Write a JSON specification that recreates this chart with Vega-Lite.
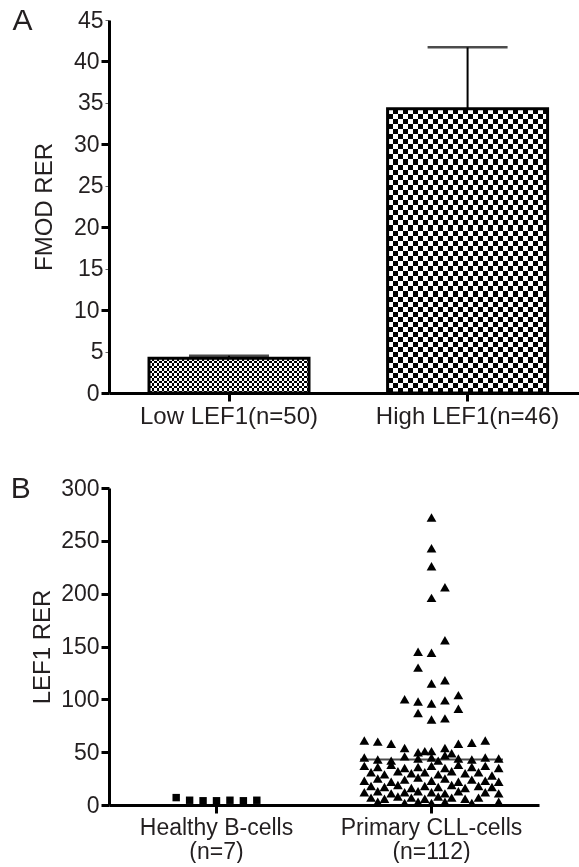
{
  "$schema": "https://vega.github.io/schema/vega-lite/v6.json",
  "padding": {"left": 10, "top": 6, "right": 0, "bottom": 0},
  "spacing": 46,
  "datasets": {
    "bars": [
      {"grp": "Low LEF1(n=50)", "mean": 4.2, "upper": 4.5},
      {"grp": "High LEF1(n=46)", "mean": 34.3, "upper": 41.7}
    ],
    "pts": [
      {"g":"Healthy","s":-6,"v":7},{"g":"Healthy","s":-4,"v":4.5},{"g":"Healthy","s":-2,"v":4},{"g":"Healthy","s":0,"v":4},{"g":"Healthy","s":2,"v":4.5},{"g":"Healthy","s":4,"v":4},{"g":"Healthy","s":6,"v":4.5},
      {"g":"Primary","s":0,"v":272},{"g":"Primary","s":0,"v":243},{"g":"Primary","s":0,"v":226},{"g":"Primary","s":2,"v":206},{"g":"Primary","s":0,"v":196},{"g":"Primary","s":2,"v":156},{"g":"Primary","s":-2,"v":145},{"g":"Primary","s":0,"v":144},{"g":"Primary","s":-2,"v":130},{"g":"Primary","s":0,"v":115},{"g":"Primary","s":2,"v":118},{"g":"Primary","s":-4,"v":100},{"g":"Primary","s":-2,"v":98},{"g":"Primary","s":0,"v":96},{"g":"Primary","s":2,"v":99},{"g":"Primary","s":4,"v":104},{"g":"Primary","s":-2,"v":87},{"g":"Primary","s":0,"v":81},{"g":"Primary","s":2,"v":82},{"g":"Primary","s":4,"v":91},
      {"g":"Primary","s":-10,"v":61},{"g":"Primary","s":-8,"v":60},{"g":"Primary","s":-6,"v":58},{"g":"Primary","s":-4,"v":54},{"g":"Primary","s":-2,"v":50},{"g":"Primary","s":-1,"v":51},{"g":"Primary","s":0,"v":51},{"g":"Primary","s":2,"v":54},{"g":"Primary","s":3,"v":49},{"g":"Primary","s":4,"v":58},{"g":"Primary","s":6,"v":59},{"g":"Primary","s":8,"v":61},
      {"g":"Primary","s":-10,"v":45},{"g":"Primary","s":-8,"v":43},{"g":"Primary","s":-6,"v":42},{"g":"Primary","s":-4,"v":46},{"g":"Primary","s":-2,"v":44},{"g":"Primary","s":0,"v":45},{"g":"Primary","s":1,"v":42},{"g":"Primary","s":2,"v":47},{"g":"Primary","s":4,"v":44},{"g":"Primary","s":6,"v":43},{"g":"Primary","s":8,"v":45},{"g":"Primary","s":10,"v":44},
      {"g":"Primary","s":-10,"v":37},{"g":"Primary","s":-8,"v":36},{"g":"Primary","s":-6,"v":38},{"g":"Primary","s":-4,"v":35},{"g":"Primary","s":-2,"v":36},{"g":"Primary","s":0,"v":37},{"g":"Primary","s":2,"v":35},{"g":"Primary","s":4,"v":38},{"g":"Primary","s":6,"v":36},{"g":"Primary","s":8,"v":37},{"g":"Primary","s":10,"v":35},
      {"g":"Primary","s":-9,"v":31},{"g":"Primary","s":-7,"v":29},{"g":"Primary","s":-5,"v":32},{"g":"Primary","s":-3,"v":30},{"g":"Primary","s":-1,"v":31},{"g":"Primary","s":1,"v":29},{"g":"Primary","s":3,"v":32},{"g":"Primary","s":5,"v":30},{"g":"Primary","s":7,"v":31},{"g":"Primary","s":9,"v":28},
      {"g":"Primary","s":-10,"v":23},{"g":"Primary","s":-8,"v":25},{"g":"Primary","s":-6,"v":22},{"g":"Primary","s":-4,"v":24},{"g":"Primary","s":-2,"v":26},{"g":"Primary","s":0,"v":23},{"g":"Primary","s":2,"v":25},{"g":"Primary","s":4,"v":22},{"g":"Primary","s":6,"v":24},{"g":"Primary","s":8,"v":23},{"g":"Primary","s":10,"v":22},
      {"g":"Primary","s":-9,"v":18},{"g":"Primary","s":-7,"v":17},{"g":"Primary","s":-5,"v":19},{"g":"Primary","s":-3,"v":16},{"g":"Primary","s":-1,"v":18},{"g":"Primary","s":1,"v":17},{"g":"Primary","s":3,"v":19},{"g":"Primary","s":5,"v":16},{"g":"Primary","s":7,"v":18},{"g":"Primary","s":9,"v":17},
      {"g":"Primary","s":-10,"v":12},{"g":"Primary","s":-8,"v":13},{"g":"Primary","s":-6,"v":11},{"g":"Primary","s":-4,"v":12},{"g":"Primary","s":-2,"v":13},{"g":"Primary","s":0,"v":12},{"g":"Primary","s":2,"v":11},{"g":"Primary","s":4,"v":13},{"g":"Primary","s":8,"v":12},{"g":"Primary","s":10,"v":11},
      {"g":"Primary","s":-9,"v":7},{"g":"Primary","s":-7,"v":6},{"g":"Primary","s":-5,"v":8},{"g":"Primary","s":-3,"v":7},{"g":"Primary","s":-1,"v":6},{"g":"Primary","s":1,"v":8},{"g":"Primary","s":3,"v":7},{"g":"Primary","s":5,"v":6},{"g":"Primary","s":7,"v":7},
      {"g":"Primary","s":-8,"v":3},{"g":"Primary","s":-4,"v":2},{"g":"Primary","s":-2,"v":3},{"g":"Primary","s":0,"v":2},{"g":"Primary","s":2,"v":3},{"g":"Primary","s":6,"v":2},{"g":"Primary","s":10,"v":3}
    ],
    "lines": [
      {"g": "Primary", "v": 43}
    ]
  },
  "vconcat": [
    {
      "width": 470,
      "height": 373,
      "title": {"text": "A", "frame": "bounds", "anchor": "start", "offset": 0, "baseline": "alphabetic", "dx": -20, "dy": 51},
      "data": {"name": "bars"},
      "encoding": {
        "x": {
          "field": "grp", "type": "nominal", "sort": null,
          "scale": {"type": "band", "domain": ["Low LEF1(n=50)", "High LEF1(n=46)"], "paddingInner": 0.33, "paddingOuter": 0.15, "align": 0.56},
          "axis": {"title": null, "labelAngle": 0, "labelPadding": 3, "tickSize": 8, "labelFontSize": 24, "labelLimit": 400}
        },
        "y": {
          "field": "mean", "type": "quantitative", "title": "FMOD RER",
          "scale": {"domain": [0, 45], "nice": false},
          "axis": {
            "values": [0, 5, 10, 15, 20, 25, 30, 35, 40, 45],
            "titlePadding": 17,
            "tickWidth": {"condition": {"test": "datum.value % 10 === 5", "value": 1}, "value": 3},
            "tickSize": {"condition": {"test": "datum.value % 10 === 5", "value": 4}, "value": 8},
            "tickColor": {"condition": {"test": "datum.value % 10 === 5", "value": "#666"}, "value": "black"}
          }
        }
      },
      "layer": [
        {
          "transform": [{"filter": "datum.grp === 'Low LEF1(n=50)'"}],
          "mark": {"type": "bar", "width": 160, "strokeWidth": 0, "fill": {"gradient": "linear", "x1": 0, "y1": 0, "x2": 1, "y2": 0, "stops": [{"offset":0,"color":"#000"},{"offset":0.015625,"color":"#000"},{"offset":0.015625,"color":"#fff"},{"offset":0.03125,"color":"#fff"},{"offset":0.03125,"color":"#000"},{"offset":0.046875,"color":"#000"},{"offset":0.046875,"color":"#fff"},{"offset":0.0625,"color":"#fff"},{"offset":0.0625,"color":"#000"},{"offset":0.078125,"color":"#000"},{"offset":0.078125,"color":"#fff"},{"offset":0.09375,"color":"#fff"},{"offset":0.09375,"color":"#000"},{"offset":0.109375,"color":"#000"},{"offset":0.109375,"color":"#fff"},{"offset":0.125,"color":"#fff"},{"offset":0.125,"color":"#000"},{"offset":0.140625,"color":"#000"},{"offset":0.140625,"color":"#fff"},{"offset":0.15625,"color":"#fff"},{"offset":0.15625,"color":"#000"},{"offset":0.171875,"color":"#000"},{"offset":0.171875,"color":"#fff"},{"offset":0.1875,"color":"#fff"},{"offset":0.1875,"color":"#000"},{"offset":0.203125,"color":"#000"},{"offset":0.203125,"color":"#fff"},{"offset":0.21875,"color":"#fff"},{"offset":0.21875,"color":"#000"},{"offset":0.234375,"color":"#000"},{"offset":0.234375,"color":"#fff"},{"offset":0.25,"color":"#fff"},{"offset":0.25,"color":"#000"},{"offset":0.265625,"color":"#000"},{"offset":0.265625,"color":"#fff"},{"offset":0.28125,"color":"#fff"},{"offset":0.28125,"color":"#000"},{"offset":0.296875,"color":"#000"},{"offset":0.296875,"color":"#fff"},{"offset":0.3125,"color":"#fff"},{"offset":0.3125,"color":"#000"},{"offset":0.328125,"color":"#000"},{"offset":0.328125,"color":"#fff"},{"offset":0.34375,"color":"#fff"},{"offset":0.34375,"color":"#000"},{"offset":0.359375,"color":"#000"},{"offset":0.359375,"color":"#fff"},{"offset":0.375,"color":"#fff"},{"offset":0.375,"color":"#000"},{"offset":0.390625,"color":"#000"},{"offset":0.390625,"color":"#fff"},{"offset":0.40625,"color":"#fff"},{"offset":0.40625,"color":"#000"},{"offset":0.421875,"color":"#000"},{"offset":0.421875,"color":"#fff"},{"offset":0.4375,"color":"#fff"},{"offset":0.4375,"color":"#000"},{"offset":0.453125,"color":"#000"},{"offset":0.453125,"color":"#fff"},{"offset":0.46875,"color":"#fff"},{"offset":0.46875,"color":"#000"},{"offset":0.484375,"color":"#000"},{"offset":0.484375,"color":"#fff"},{"offset":0.5,"color":"#fff"},{"offset":0.5,"color":"#000"},{"offset":0.515625,"color":"#000"},{"offset":0.515625,"color":"#fff"},{"offset":0.53125,"color":"#fff"},{"offset":0.53125,"color":"#000"},{"offset":0.546875,"color":"#000"},{"offset":0.546875,"color":"#fff"},{"offset":0.5625,"color":"#fff"},{"offset":0.5625,"color":"#000"},{"offset":0.578125,"color":"#000"},{"offset":0.578125,"color":"#fff"},{"offset":0.59375,"color":"#fff"},{"offset":0.59375,"color":"#000"},{"offset":0.609375,"color":"#000"},{"offset":0.609375,"color":"#fff"},{"offset":0.625,"color":"#fff"},{"offset":0.625,"color":"#000"},{"offset":0.640625,"color":"#000"},{"offset":0.640625,"color":"#fff"},{"offset":0.65625,"color":"#fff"},{"offset":0.65625,"color":"#000"},{"offset":0.671875,"color":"#000"},{"offset":0.671875,"color":"#fff"},{"offset":0.6875,"color":"#fff"},{"offset":0.6875,"color":"#000"},{"offset":0.703125,"color":"#000"},{"offset":0.703125,"color":"#fff"},{"offset":0.71875,"color":"#fff"},{"offset":0.71875,"color":"#000"},{"offset":0.734375,"color":"#000"},{"offset":0.734375,"color":"#fff"},{"offset":0.75,"color":"#fff"},{"offset":0.75,"color":"#000"},{"offset":0.765625,"color":"#000"},{"offset":0.765625,"color":"#fff"},{"offset":0.78125,"color":"#fff"},{"offset":0.78125,"color":"#000"},{"offset":0.796875,"color":"#000"},{"offset":0.796875,"color":"#fff"},{"offset":0.8125,"color":"#fff"},{"offset":0.8125,"color":"#000"},{"offset":0.828125,"color":"#000"},{"offset":0.828125,"color":"#fff"},{"offset":0.84375,"color":"#fff"},{"offset":0.84375,"color":"#000"},{"offset":0.859375,"color":"#000"},{"offset":0.859375,"color":"#fff"},{"offset":0.875,"color":"#fff"},{"offset":0.875,"color":"#000"},{"offset":0.890625,"color":"#000"},{"offset":0.890625,"color":"#fff"},{"offset":0.90625,"color":"#fff"},{"offset":0.90625,"color":"#000"},{"offset":0.921875,"color":"#000"},{"offset":0.921875,"color":"#fff"},{"offset":0.9375,"color":"#fff"},{"offset":0.9375,"color":"#000"},{"offset":0.953125,"color":"#000"},{"offset":0.953125,"color":"#fff"},{"offset":0.96875,"color":"#fff"},{"offset":0.96875,"color":"#000"},{"offset":0.984375,"color":"#000"},{"offset":0.984375,"color":"#fff"},{"offset":1,"color":"#fff"}]}}
        },
        {
          "transform": [{"filter": "datum.grp === 'Low LEF1(n=50)'"}],
          "mark": {"type": "bar", "width": 160, "strokeWidth": 0, "blend": "difference", "fill": {"gradient": "linear", "x1": 0, "y1": 0, "x2": 0, "y2": 1, "stops": [{"offset":0,"color":"#fff"},{"offset":0.071429,"color":"#fff"},{"offset":0.071429,"color":"#000"},{"offset":0.142857,"color":"#000"},{"offset":0.142857,"color":"#fff"},{"offset":0.214286,"color":"#fff"},{"offset":0.214286,"color":"#000"},{"offset":0.285714,"color":"#000"},{"offset":0.285714,"color":"#fff"},{"offset":0.357143,"color":"#fff"},{"offset":0.357143,"color":"#000"},{"offset":0.428571,"color":"#000"},{"offset":0.428571,"color":"#fff"},{"offset":0.5,"color":"#fff"},{"offset":0.5,"color":"#000"},{"offset":0.571429,"color":"#000"},{"offset":0.571429,"color":"#fff"},{"offset":0.642857,"color":"#fff"},{"offset":0.642857,"color":"#000"},{"offset":0.714286,"color":"#000"},{"offset":0.714286,"color":"#fff"},{"offset":0.785714,"color":"#fff"},{"offset":0.785714,"color":"#000"},{"offset":0.857143,"color":"#000"},{"offset":0.857143,"color":"#fff"},{"offset":0.928571,"color":"#fff"},{"offset":0.928571,"color":"#000"},{"offset":1,"color":"#000"}]}}
        },
        {
          "transform": [{"filter": "datum.grp === 'High LEF1(n=46)'"}],
          "mark": {"type": "bar", "width": 160, "strokeWidth": 0, "fill": {"gradient": "linear", "x1": 0, "y1": 0, "x2": 1, "y2": 0, "stops": [{"offset":0,"color":"#000"},{"offset":0.03125,"color":"#000"},{"offset":0.03125,"color":"#fff"},{"offset":0.0625,"color":"#fff"},{"offset":0.0625,"color":"#000"},{"offset":0.09375,"color":"#000"},{"offset":0.09375,"color":"#fff"},{"offset":0.125,"color":"#fff"},{"offset":0.125,"color":"#000"},{"offset":0.15625,"color":"#000"},{"offset":0.15625,"color":"#fff"},{"offset":0.1875,"color":"#fff"},{"offset":0.1875,"color":"#000"},{"offset":0.21875,"color":"#000"},{"offset":0.21875,"color":"#fff"},{"offset":0.25,"color":"#fff"},{"offset":0.25,"color":"#000"},{"offset":0.28125,"color":"#000"},{"offset":0.28125,"color":"#fff"},{"offset":0.3125,"color":"#fff"},{"offset":0.3125,"color":"#000"},{"offset":0.34375,"color":"#000"},{"offset":0.34375,"color":"#fff"},{"offset":0.375,"color":"#fff"},{"offset":0.375,"color":"#000"},{"offset":0.40625,"color":"#000"},{"offset":0.40625,"color":"#fff"},{"offset":0.4375,"color":"#fff"},{"offset":0.4375,"color":"#000"},{"offset":0.46875,"color":"#000"},{"offset":0.46875,"color":"#fff"},{"offset":0.5,"color":"#fff"},{"offset":0.5,"color":"#000"},{"offset":0.53125,"color":"#000"},{"offset":0.53125,"color":"#fff"},{"offset":0.5625,"color":"#fff"},{"offset":0.5625,"color":"#000"},{"offset":0.59375,"color":"#000"},{"offset":0.59375,"color":"#fff"},{"offset":0.625,"color":"#fff"},{"offset":0.625,"color":"#000"},{"offset":0.65625,"color":"#000"},{"offset":0.65625,"color":"#fff"},{"offset":0.6875,"color":"#fff"},{"offset":0.6875,"color":"#000"},{"offset":0.71875,"color":"#000"},{"offset":0.71875,"color":"#fff"},{"offset":0.75,"color":"#fff"},{"offset":0.75,"color":"#000"},{"offset":0.78125,"color":"#000"},{"offset":0.78125,"color":"#fff"},{"offset":0.8125,"color":"#fff"},{"offset":0.8125,"color":"#000"},{"offset":0.84375,"color":"#000"},{"offset":0.84375,"color":"#fff"},{"offset":0.875,"color":"#fff"},{"offset":0.875,"color":"#000"},{"offset":0.90625,"color":"#000"},{"offset":0.90625,"color":"#fff"},{"offset":0.9375,"color":"#fff"},{"offset":0.9375,"color":"#000"},{"offset":0.96875,"color":"#000"},{"offset":0.96875,"color":"#fff"},{"offset":1,"color":"#fff"}]}}
        },
        {
          "transform": [{"filter": "datum.grp === 'High LEF1(n=46)'"}],
          "mark": {"type": "bar", "width": 160, "strokeWidth": 0, "blend": "difference", "fill": {"gradient": "linear", "x1": 0, "y1": 0, "x2": 0, "y2": 1, "stops": [{"offset":0,"color":"#fff"},{"offset":0.017857,"color":"#fff"},{"offset":0.017857,"color":"#000"},{"offset":0.035714,"color":"#000"},{"offset":0.035714,"color":"#fff"},{"offset":0.053571,"color":"#fff"},{"offset":0.053571,"color":"#000"},{"offset":0.071429,"color":"#000"},{"offset":0.071429,"color":"#fff"},{"offset":0.089286,"color":"#fff"},{"offset":0.089286,"color":"#000"},{"offset":0.107143,"color":"#000"},{"offset":0.107143,"color":"#fff"},{"offset":0.125,"color":"#fff"},{"offset":0.125,"color":"#000"},{"offset":0.142857,"color":"#000"},{"offset":0.142857,"color":"#fff"},{"offset":0.160714,"color":"#fff"},{"offset":0.160714,"color":"#000"},{"offset":0.178571,"color":"#000"},{"offset":0.178571,"color":"#fff"},{"offset":0.196429,"color":"#fff"},{"offset":0.196429,"color":"#000"},{"offset":0.214286,"color":"#000"},{"offset":0.214286,"color":"#fff"},{"offset":0.232143,"color":"#fff"},{"offset":0.232143,"color":"#000"},{"offset":0.25,"color":"#000"},{"offset":0.25,"color":"#fff"},{"offset":0.267857,"color":"#fff"},{"offset":0.267857,"color":"#000"},{"offset":0.285714,"color":"#000"},{"offset":0.285714,"color":"#fff"},{"offset":0.303571,"color":"#fff"},{"offset":0.303571,"color":"#000"},{"offset":0.321429,"color":"#000"},{"offset":0.321429,"color":"#fff"},{"offset":0.339286,"color":"#fff"},{"offset":0.339286,"color":"#000"},{"offset":0.357143,"color":"#000"},{"offset":0.357143,"color":"#fff"},{"offset":0.375,"color":"#fff"},{"offset":0.375,"color":"#000"},{"offset":0.392857,"color":"#000"},{"offset":0.392857,"color":"#fff"},{"offset":0.410714,"color":"#fff"},{"offset":0.410714,"color":"#000"},{"offset":0.428571,"color":"#000"},{"offset":0.428571,"color":"#fff"},{"offset":0.446429,"color":"#fff"},{"offset":0.446429,"color":"#000"},{"offset":0.464286,"color":"#000"},{"offset":0.464286,"color":"#fff"},{"offset":0.482143,"color":"#fff"},{"offset":0.482143,"color":"#000"},{"offset":0.5,"color":"#000"},{"offset":0.5,"color":"#fff"},{"offset":0.517857,"color":"#fff"},{"offset":0.517857,"color":"#000"},{"offset":0.535714,"color":"#000"},{"offset":0.535714,"color":"#fff"},{"offset":0.553571,"color":"#fff"},{"offset":0.553571,"color":"#000"},{"offset":0.571429,"color":"#000"},{"offset":0.571429,"color":"#fff"},{"offset":0.589286,"color":"#fff"},{"offset":0.589286,"color":"#000"},{"offset":0.607143,"color":"#000"},{"offset":0.607143,"color":"#fff"},{"offset":0.625,"color":"#fff"},{"offset":0.625,"color":"#000"},{"offset":0.642857,"color":"#000"},{"offset":0.642857,"color":"#fff"},{"offset":0.660714,"color":"#fff"},{"offset":0.660714,"color":"#000"},{"offset":0.678571,"color":"#000"},{"offset":0.678571,"color":"#fff"},{"offset":0.696429,"color":"#fff"},{"offset":0.696429,"color":"#000"},{"offset":0.714286,"color":"#000"},{"offset":0.714286,"color":"#fff"},{"offset":0.732143,"color":"#fff"},{"offset":0.732143,"color":"#000"},{"offset":0.75,"color":"#000"},{"offset":0.75,"color":"#fff"},{"offset":0.767857,"color":"#fff"},{"offset":0.767857,"color":"#000"},{"offset":0.785714,"color":"#000"},{"offset":0.785714,"color":"#fff"},{"offset":0.803571,"color":"#fff"},{"offset":0.803571,"color":"#000"},{"offset":0.821429,"color":"#000"},{"offset":0.821429,"color":"#fff"},{"offset":0.839286,"color":"#fff"},{"offset":0.839286,"color":"#000"},{"offset":0.857143,"color":"#000"},{"offset":0.857143,"color":"#fff"},{"offset":0.875,"color":"#fff"},{"offset":0.875,"color":"#000"},{"offset":0.892857,"color":"#000"},{"offset":0.892857,"color":"#fff"},{"offset":0.910714,"color":"#fff"},{"offset":0.910714,"color":"#000"},{"offset":0.928571,"color":"#000"},{"offset":0.928571,"color":"#fff"},{"offset":0.946429,"color":"#fff"},{"offset":0.946429,"color":"#000"},{"offset":0.964286,"color":"#000"},{"offset":0.964286,"color":"#fff"},{"offset":0.982143,"color":"#fff"},{"offset":0.982143,"color":"#000"},{"offset":1,"color":"#000"}]}}
        },
        {
          "mark": {"type": "bar", "width": 160, "fillOpacity": 0, "stroke": "black", "strokeWidth": 3}
        },
        {
          "mark": {"type": "rule", "color": "black", "strokeWidth": 2},
          "encoding": {"y2": {"field": "upper"}}
        },
        {
          "mark": {"type": "tick", "color": "black", "size": 80, "thickness": 2.5},
          "encoding": {"y": {"field": "upper", "type": "quantitative", "title": "FMOD RER"}}
        }
      ]
    },
    {
      "width": 430,
      "height": 317,
      "title": {"text": "B", "frame": "bounds", "anchor": "start", "offset": 0, "baseline": "alphabetic", "dx": -20, "dy": 51},
      "encoding": {
        "x": {
          "field": "g", "type": "nominal",
          "scale": {"type": "band", "domain": ["Healthy", "Primary"], "paddingInner": 0, "paddingOuter": 0},
          "axis": {"title": null, "labelAngle": 0, "labelPadding": 3, "tickSize": 8, "labelLineHeight": 24, "labelFontSize": 23, "labelLimit": 400,
                   "labelExpr": "datum.value === 'Healthy' ? ['Healthy B-cells', '(n=7)'] : ['Primary CLL-cells', '(n=112)']"}
        },
        "y": {
          "field": "v", "type": "quantitative", "title": "LEF1 RER",
          "scale": {"domain": [0, 300], "nice": false},
          "axis": {"values": [0, 50, 100, 150, 200, 250, 300], "titlePadding": 6}
        }
      },
      "layer": [
        {
          "data": {"name": "pts"},
          "mark": {"type": "point", "filled": true, "color": "black", "opacity": 1, "strokeWidth": 0},
          "encoding": {
            "xOffset": {"field": "s", "type": "ordinal", "scale": {"domain": [-16,-15,-14,-13,-12,-11,-10,-9,-8,-7,-6,-5,-4,-3,-2,-1,0,1,2,3,4,5,6,7,8,9,10,11,12,13,14,15,16], "paddingInner": 0, "paddingOuter": 0}},
            "shape": {"field": "g", "type": "nominal", "scale": {"domain": ["Healthy", "Primary"], "range": ["square", "triangle-up"]}, "legend": null},
            "size": {"field": "g", "type": "ordinal", "scale": {"domain": ["Healthy", "Primary"], "range": [55, 95]}, "legend": null}
          }
        },
        {
          "data": {"name": "lines"},
          "mark": {"type": "tick", "color": "black", "size": 143, "thickness": 2}
        }
      ]
    }
  ],
  "config": {
    "view": {"stroke": null},
    "axis": {
      "domainColor": "black", "domainWidth": 3, "tickColor": "black", "tickWidth": 3, "tickSize": 8,
      "labelFont": "Liberation Sans", "labelFontSize": 23, "labelColor": "#231f20", "labelPadding": 2,
      "titleFont": "Liberation Sans", "titleFontSize": 24, "titleFontWeight": "normal", "titleColor": "#231f20",
      "grid": false
    },
    "title": {"font": "Liberation Sans", "fontSize": 30, "fontWeight": "normal", "color": "#231f20"}
  }
}
